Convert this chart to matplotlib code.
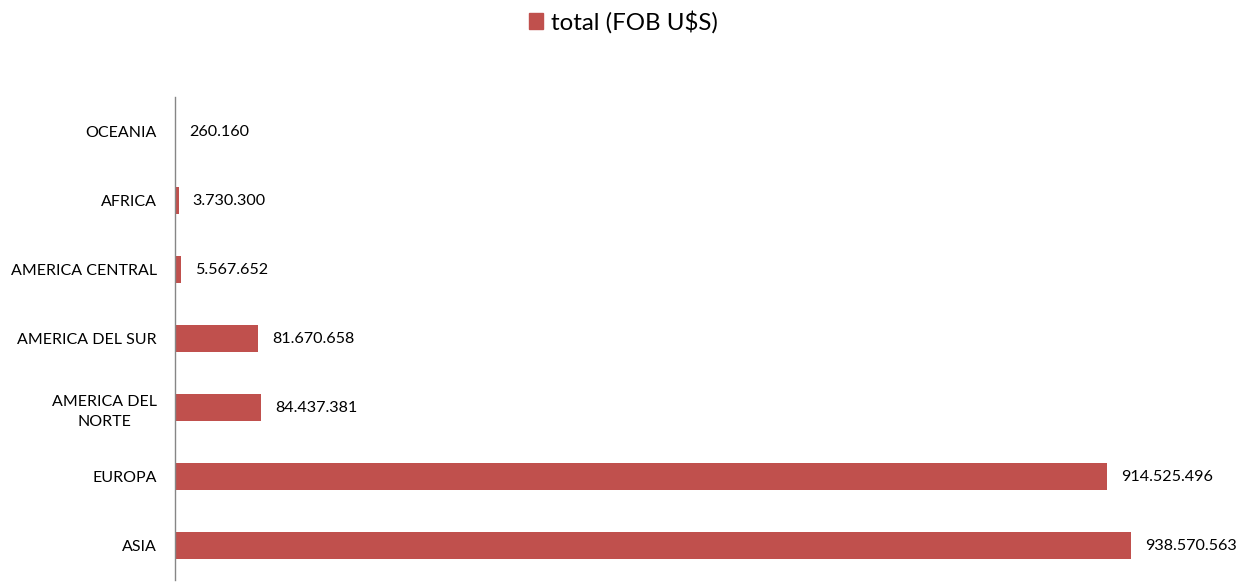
import matplotlib
matplotlib.use("Agg")
import matplotlib.pyplot as plt
from matplotlib.patches import Patch

categories = ["ASIA", "EUROPA", "AMERICA DEL\nNORTE", "AMERICA DEL SUR",
              "AMERICA CENTRAL", "AFRICA", "OCEANIA"]
values = [938570563, 914525496, 84437381, 81670658, 5567652, 3730300, 260160]
series_name = "total (FOB U$S)"
color = "#C0504D"

plt.rcParams['font.family'] = ['Lato', 'DejaVu Sans']

fig = plt.figure(figsize=(12.54, 5.85), dpi=100)
ax = fig.add_axes([175/1254, 1 - 580/585, (1194-175)/1254, (580-97)/585])

ypos = list(range(len(categories)))
ax.barh(ypos, values, height=0.4, color=color)
ax.set_ylim(-0.5, len(categories) - 0.5)
ax.set_xlim(0, 1000000000)

def fmt(v):
    return f"{v:,}".replace(",", ".")

for y, v in zip(ypos, values):
    ax.annotate(fmt(v), (v, y), xytext=(10, 0), textcoords="offset points",
                va="center", ha="left", fontsize=11.6, color="#000000")

ax.set_yticks(ypos)
ax.set_yticklabels(categories, fontsize=11.5, ha="right")
ax.tick_params(axis="y", length=0, pad=13)
for lbl in ax.get_yticklabels():
    lbl.set_multialignment("center")
    lbl.set_linespacing(1.55)
ax.set_xticks([])
for s in ["top", "right", "bottom"]:
    ax.spines[s].set_visible(False)
ax.spines["left"].set_color("#868686")
ax.spines["left"].set_linewidth(1.0)

fig.legend(handles=[Patch(color=color, label=series_name)], loc="center",
           bbox_to_anchor=(0.497, 1 - 22/585), frameon=False, fontsize=17.3,
           handlelength=0.6, handleheight=0.6, handletextpad=0.3)

fig.savefig("out.png", dpi=100)
